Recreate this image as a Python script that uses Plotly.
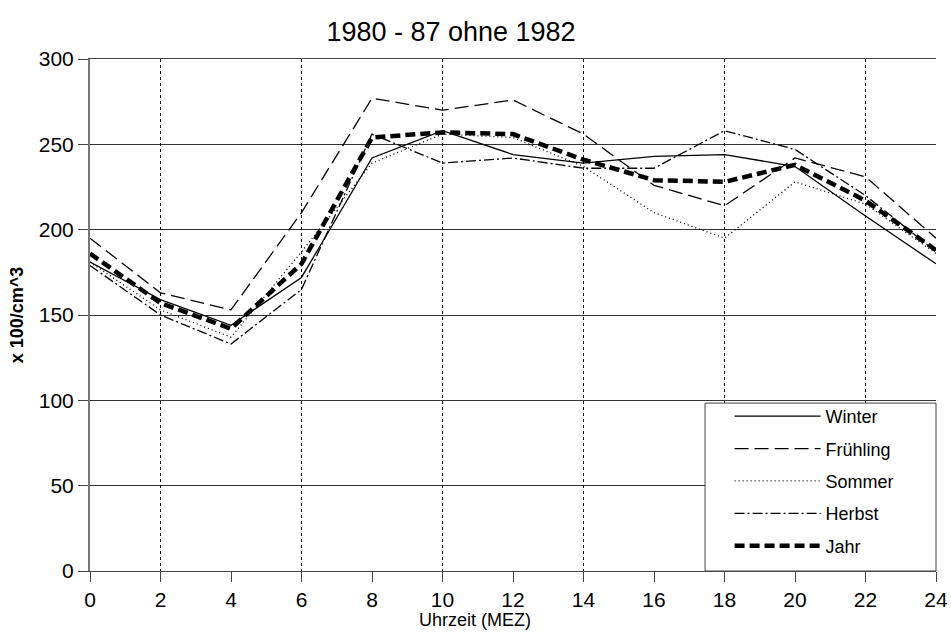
import plotly.graph_objects as go

hours = [0, 2, 4, 6, 8, 10, 12, 14, 16, 18, 20, 22, 24]
winter = [181, 159, 144, 172, 242, 258, 244, 239, 243, 244, 237, 208, 180]
fruehling = [195, 163, 153, 210, 277, 270, 276, 256, 226, 214, 242, 231, 195]
sommer = [181, 153, 137, 187, 239, 256, 254, 237, 210, 195, 228, 215, 186]
herbst = [179, 150, 133, 165, 256, 239, 242, 236, 236, 258, 247, 220, 187]
jahr = [186, 157, 142, 180, 254, 257, 256, 241, 229, 228, 238, 217, 188]

series_names = ["Winter", "Frühling", "Sommer", "Herbst", "Jahr"]
series_vals = [winter, fruehling, sommer, herbst, jahr]
styles = [
    dict(width=1.3, dash="solid"),
    dict(width=1.3, dash="14px,6px"),
    dict(width=1.3, dash="1px,3px"),
    dict(width=1.3, dash="10px,3px,2px,3px"),
    dict(width=4.5, dash="10px,5px"),
]

x_ticks = list(range(0, 25, 2))
x_grid = [2, 6, 10, 14, 18, 22]
y_ticks = [0, 50, 100, 150, 200, 250, 300]

FONT = "Liberation Sans, Arial, sans-serif"
W, H = 951, 637

fig = go.Figure()
for name, vals, st in zip(series_names, series_vals, styles):
    fig.add_trace(go.Scatter(x=hours, y=vals, name=name, mode="lines",
                             legendgroup=name,
                             line=dict(color="black", **st)))

# invisible trace to activate the grid axis
fig.add_trace(go.Scatter(x=[0, 24], y=[0, 0], xaxis="x2", mode="lines",
                         line=dict(width=0), showlegend=False, hoverinfo="skip"))

# legend frame (decoration)
fig.add_shape(type="rect", xref="paper", yref="paper",
              x0=0.727, x1=1.0, y0=0.0, y1=0.328, layer="above",
              line=dict(color="#444", width=1), fillcolor="white")

# x axis title (placed as in the original, centred on the page)
fig.add_annotation(text="Uhrzeit (MEZ)", xref="paper", yref="paper",
                   x=0.455, y=-0.0957, xanchor="center", yanchor="middle",
                   showarrow=False, font=dict(size=18))

fig.update_layout(
    width=W, height=H,
    margin=dict(l=90, r=15, t=59, b=66),
    paper_bgcolor="white", plot_bgcolor="white",
    font=dict(family=FONT, size=21, color="black"),
    title=dict(text="1980 - 87 ohne 1982", x=451 / W, xanchor="center",
               y=1 - 32 / H, yanchor="middle", font=dict(size=27, family=FONT)),
    xaxis=dict(range=[0, 24], tickvals=x_ticks, ticks="outside", ticklen=10,
               tickcolor="#444", showgrid=False, zeroline=False, automargin=False,
               showline=True, linecolor="#444", linewidth=1, mirror=True,
               tickfont=dict(size=21)),
    xaxis2=dict(range=[0, 24], overlaying="x", tickvals=x_grid, automargin=False,
                showticklabels=False, showgrid=True, gridcolor="black",
                griddash="dot", gridwidth=1, zeroline=False, showline=False,
                ticks=""),
    yaxis=dict(range=[0, 300], tickvals=y_ticks, ticks="outside", ticklen=10,
               tickcolor="#444", showgrid=True, gridcolor="#333", gridwidth=1,
               zeroline=False, showline=True, linecolor="#777", linewidth=2,
               automargin=False,
               title=dict(text="<b>x 100/cm^3</b>", standoff=10, font=dict(size=18)),
               tickfont=dict(size=21)),
    legend=dict(x=0.756, y=0.338, xanchor="left", yanchor="top",
                borderwidth=0, bgcolor="rgba(0,0,0,0)",
                font=dict(size=18), itemwidth=86, tracegroupgap=6),
    showlegend=True,
)

fig.write_html("out.html", config={"displayModeBar": False},
               post_script="document.body.style.margin='0';")
